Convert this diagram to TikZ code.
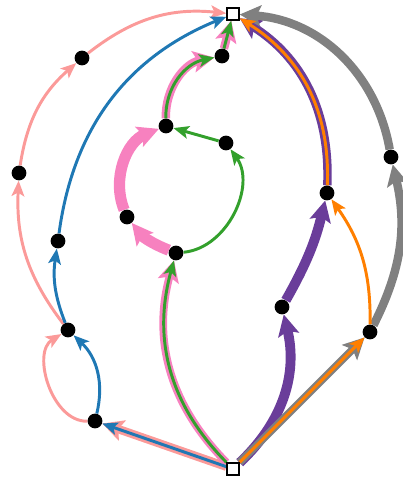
\documentclass[tikz,border=0pt]{standalone}
\usepackage{xcolor}
\usepackage{tikz}
\usetikzlibrary{arrows.meta}
\definecolor{salmon}{HTML}{FB9A99}
\definecolor{flowblue}{HTML}{1F78B4}
\definecolor{flowpink}{HTML}{F781BF}
\definecolor{flowgreen}{HTML}{33A02C}
\definecolor{flowpurple}{HTML}{6A3D9A}
\definecolor{floworange}{HTML}{FF7F00}
\definecolor{flowgray}{HTML}{808080}
\pgfdeclarelayer{edges}
\pgfsetlayers{edges,main}

\begin{document}
\begin{tikzpicture}[x=0.025cm,y=-0.025cm,
  dot/.style={shape=circle,fill=black,inner sep=0pt,minimum size=10.5pt},
  term/.style={shape=rectangle,draw=black,fill=white,line width=1.5pt,inner sep=0pt,minimum size=8pt},
  fine/.style={line width=2.1pt,-{Stealth[length=11pt,width=9pt,inset=2.5pt]}},
  heavy/.style={line width=#1,-{Stealth[length=15pt,width=15pt,inset=3pt]}}]
\useasboundingbox (0,0) rectangle (402,479);
\node[term](t) at (233,14){};
\node[term](s) at (233,469){};
\node[dot](a1) at (82,58){};
\node[dot](a2) at (19,173){};
\node[dot](b1) at (58,241){};
\node[dot](c1) at (68,330){};
\node[dot](c0) at (95,421){};
\node[dot](g1) at (222,56){};
\node[dot](g2) at (166,126){};
\node[dot](g3) at (226,143){};
\node[dot](k1) at (127,217){};
\node[dot](g4) at (176,253){};
\node[dot](v1) at (327,193){};
\node[dot](v2) at (282,307){};
\node[dot](o1) at (370,332){};
\node[dot](r1) at (391,157){};
\begin{pgfonlayer}{edges}
\draw[heavy=6pt,salmon](s)--(c0);
\draw[heavy=5.5pt,flowpink](s)to[bend left=30](g4);
\draw[heavy=8pt,flowpink](g4)to[bend left=15](k1);
\draw[heavy=8pt,flowpink](k1)to[bend left=45](g2);
\draw[heavy=6pt,flowpink](g2)to[bend left=40](g1);
\draw[heavy=6pt,flowpink](g1)--(t);
\draw[heavy=7pt,flowpurple](s)to[bend right=30](v2);
\draw[heavy=7pt,flowpurple](v2)to[bend right=8](v1);
\draw[heavy=6pt,flowpurple](v1)to[bend right=30](t);
\draw[heavy=5.5pt,flowgray](s)--(o1);
\draw[heavy=6pt,flowgray](o1)to[bend right=20](r1);
\draw[heavy=6pt,flowgray](r1)to[bend right=38](t);
\draw[fine,salmon](c0)to[bend left=75](c1);
\draw[fine,salmon](c1)to[bend left=20](a2);
\draw[fine,salmon](a2)to[bend left=20](a1);
\draw[fine,salmon](a1)to[bend left=22](t);
\draw[fine,flowblue](s)--(c0);
\draw[fine,flowblue](c0)to[bend right=30](c1);
\draw[fine,flowblue](c1)to[bend left=15](b1);
\draw[fine,flowblue](b1)to[bend left=30](t);
\draw[fine,flowgreen](s)to[bend left=30](g4);
\draw[fine,flowgreen](g4)to[bend right=60](g3);
\draw[fine,flowgreen](g3)--(g2);
\draw[fine,flowgreen](g2)to[bend left=40](g1);
\draw[fine,flowgreen](g1)--(t);
\draw[fine,floworange](s)--(o1);
\draw[fine,floworange](o1)to[bend right=18](v1);
\draw[fine,floworange](v1)to[bend right=30](t);
\end{pgfonlayer}
\end{tikzpicture}
\end{document}
